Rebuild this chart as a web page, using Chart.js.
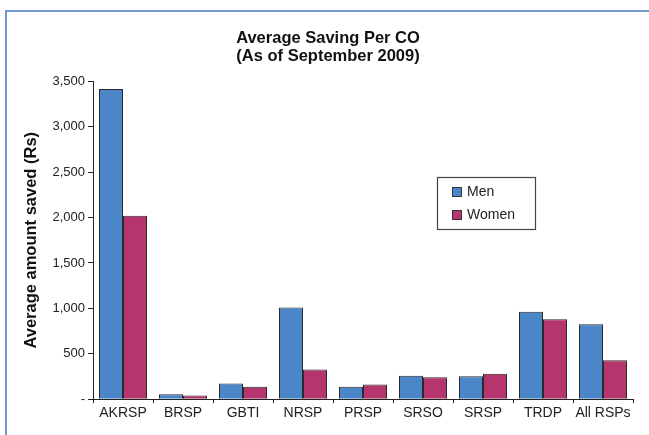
<!DOCTYPE html>
<html>
<head>
<meta charset="utf-8">
<script src="https://cdn.jsdelivr.net/npm/chart.js@4/dist/chart.umd.min.js"></script>
<style>
  body { margin: 0; background: #fff; }
  #wrap { position: relative; width: 649px; height: 435px; overflow: hidden; }
  #frame { position: absolute; left: 5px; top: 10px; width: 700px; height: 500px;
           border-top: 2px solid #7397d3; border-left: 2px solid #7397d3; }
  #grafico { position: absolute; left: 0; top: 0; }
</style>
</head>
<body>
<div id="wrap">
  <div id="frame"></div>
  <canvas id="grafico" width="649" height="435"></canvas>
</div>
<script>
// Dados
const categorias = ['AKRSP', 'BRSP', 'GBTI', 'NRSP', 'PRSP', 'SRSO', 'SRSP', 'TRDP', 'All RSPs'];
const homens = [3415, 55, 172, 1010, 136, 257, 254, 963, 825];
const mulheres = [2020, 40, 136, 327, 162, 243, 279, 879, 430];
const tituloLinhas = ['Average Saving Per CO', '(As of September 2009)'];

const fonte = '"Liberation Sans", Arial, Helvetica, sans-serif';

// Legenda desenhada dentro da área do gráfico
const legendaCaixa = {
    id: 'legendaCaixa',
    afterDraw(chart) {
        const ctx = chart.ctx;
        const x = 437, y = 177, w = 98, h = 52;
        ctx.save();
        ctx.fillStyle = '#fff';
        ctx.fillRect(x, y, w, h);
        ctx.strokeStyle = '#444';
        ctx.lineWidth = 1.2;
        ctx.strokeRect(x + 0.5, y + 0.5, w, h);
        ctx.font = '14px ' + fonte;
        ctx.textBaseline = 'middle';
        chart.data.datasets.forEach((ds, i) => {
            const sy = y + 10 + i * 23;
            ctx.fillStyle = ds.backgroundColor;
            ctx.fillRect(x + 15, sy, 10, 10);
            ctx.strokeStyle = '#333';
            ctx.lineWidth = 1;
            ctx.strokeRect(x + 15.5, sy + 0.5, 9, 9);
            ctx.fillStyle = '#222';
            ctx.fillText(ds.label, x + 30, sy + 5.5);
        });
        ctx.restore();
    }
};

new Chart(document.getElementById('grafico'), {
    type: 'bar',
    data: {
        labels: categorias,
        datasets: [{
            label: 'Men',
            data: homens,
            backgroundColor: '#4a86c8',
            borderColor: '#2a2a2a',
            borderWidth: 1,
            categoryPercentage: 0.8,
            barPercentage: 1.0
        }, {
            label: 'Women',
            data: mulheres,
            backgroundColor: '#b5366e',
            borderColor: '#2a2a2a',
            borderWidth: 1,
            categoryPercentage: 0.8,
            barPercentage: 1.0
        }]
    },
    options: {
        responsive: false,
        animation: false,
        layout: { padding: { top: 11, left: 23, right: 16, bottom: 11 } },
        plugins: {
            legend: { display: false },
            tooltip: { enabled: false },
            title: {
                display: true,
                text: tituloLinhas,
                color: '#111',
                font: { family: fonte, size: 16.5, weight: 'bold', lineHeight: 1.1 },
                padding: { top: 18, bottom: 16 }
            }
        },
        scales: {
            x: {
                grid: { drawOnChartArea: false, tickLength: 4, color: '#222' },
                border: { color: '#222', width: 1 },
                ticks: {
                    color: '#222', padding: 2, maxRotation: 0, minRotation: 0, autoSkip: false,
                    font: { family: fonte, size: 14 }
                }
            },
            y: {
                min: 0,
                max: 3500,
                afterFit(s) { s.width = 70; },
                grid: { drawOnChartArea: false, tickLength: 5, color: '#222' },
                border: { color: '#222', width: 1 },
                ticks: {
                    stepSize: 500,
                    color: '#222',
                    padding: 3,
                    font: { family: fonte, size: 13 },
                    callback: v => v === 0 ? '-' : v.toLocaleString('en-US')
                },
                title: {
                    display: true,
                    text: 'Average amount saved (Rs)',
                    color: '#111',
                    padding: { top: 0, bottom: 0 },
                    font: { family: fonte, size: 16.5, weight: 'bold', lineHeight: 1 }
                }
            }
        }
    },
    plugins: [legendaCaixa]
});
</script>
</body>
</html>
